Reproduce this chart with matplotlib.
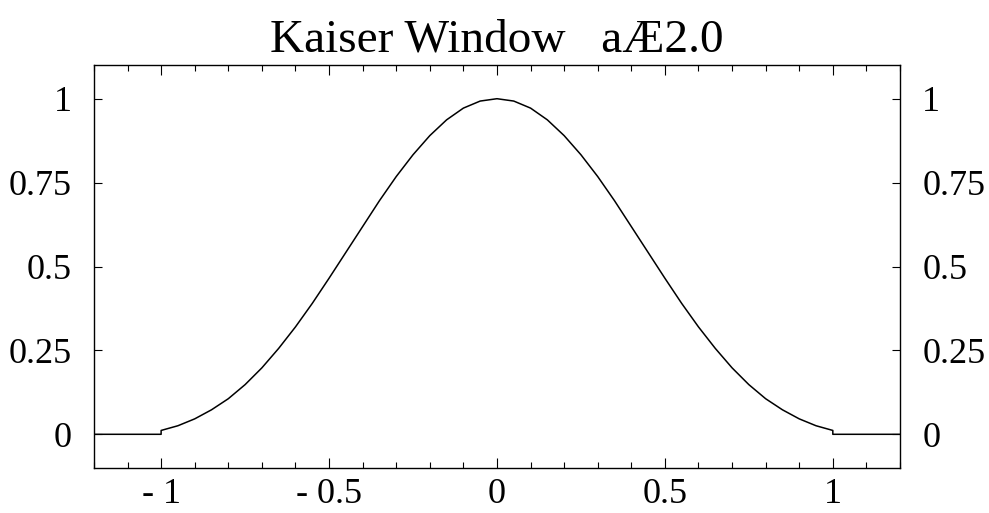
import numpy as np
import matplotlib.pyplot as plt
from matplotlib.ticker import MultipleLocator

# Kaiser window, alpha = 2.0
x_vals = [-1.2, -1.0, -1.0, -0.95, -0.9, -0.85, -0.8, -0.75, -0.7, -0.65, -0.6,
          -0.55, -0.5, -0.45, -0.4, -0.35, -0.3, -0.25, -0.2, -0.15, -0.1, -0.05,
          0.0,
          0.05, 0.1, 0.15, 0.2, 0.25, 0.3, 0.35, 0.4, 0.45, 0.5, 0.55, 0.6,
          0.65, 0.7, 0.75, 0.8, 0.85, 0.9, 0.95, 1.0, 1.0, 1.2]
w_vals = [0.0, 0.0, 0.0115, 0.0255, 0.046, 0.073, 0.106, 0.148, 0.198, 0.256, 0.32,
          0.39, 0.465, 0.542, 0.619, 0.696, 0.768, 0.833, 0.89, 0.937, 0.972, 0.993,
          1.0,
          0.993, 0.972, 0.937, 0.89, 0.833, 0.768, 0.696, 0.619, 0.542, 0.465, 0.39, 0.32,
          0.256, 0.198, 0.148, 0.106, 0.073, 0.046, 0.0255, 0.0115, 0.0, 0.0]

x_ticks = [-1, -0.5, 0, 0.5, 1]
x_labels = ['- 1', '- 0.5', '0', '0.5', '1']
y_ticks = [0, 0.25, 0.5, 0.75, 1]
y_labels = ['0', '0.25', '0.5', '0.75', '1']

plt.rcParams['font.family'] = ['Liberation Serif', 'DejaVu Serif']

fig = plt.figure(figsize=(9.89, 5.13), dpi=100)
ax = fig.add_axes([0.095, 0.088, 0.815, 0.785])
ax.plot(x_vals, w_vals, color='black', lw=1.1)

ax.set_xlim(-1.2, 1.2)
ax.set_ylim(-0.1, 1.1)
ax.set_xticks(x_ticks)
ax.set_xticklabels(x_labels)
ax.xaxis.set_minor_locator(MultipleLocator(0.1))
ax.set_yticks(y_ticks)
ax.set_yticklabels(y_labels)

ax.tick_params(axis='x', which='both', direction='in', top=True, bottom=True,
               labelsize=26, pad=7)
ax.tick_params(axis='x', which='major', length=7, width=0.8)
ax.tick_params(axis='x', which='minor', length=4, width=0.8)
ax.tick_params(axis='y', which='major', direction='in', left=True, right=True,
               labelleft=True, labelright=True, labelsize=26, pad=16,
               length=6, width=0.8)
for s in ax.spines.values():
    s.set_linewidth(1.0)

ax.set_title('Kaiser Window   a\u00c62.0', fontsize=34, pad=10)

fig.savefig('out.png', dpi=100)
